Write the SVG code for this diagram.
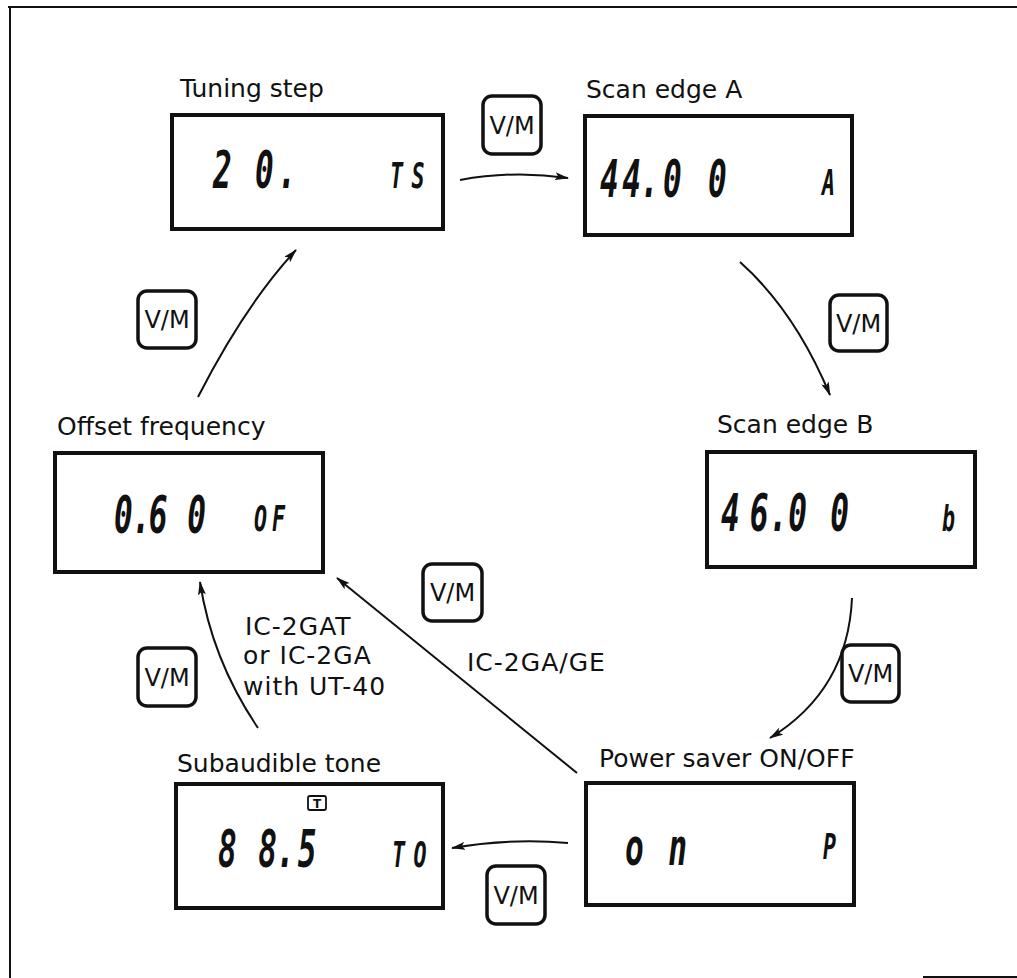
<svg xmlns="http://www.w3.org/2000/svg" width="1017" height="978" viewBox="0 0 1017 978">
<style>
.frame{fill:none;stroke:#111;stroke-width:2}
.lcdbox{fill:#fff;stroke:#111;stroke-width:4}
.lbl{font-family:"DejaVu Sans",sans-serif;font-size:25px;fill:#111}
.lcd{font-family:"DejaVu Sans Mono",monospace;font-style:oblique;font-weight:bold;font-size:52px;fill:#111}
.ind{font-family:"DejaVu Sans Mono",monospace;font-style:oblique;font-weight:bold;font-size:36px;fill:#111}
.btn rect{fill:#fff;stroke:#111;stroke-width:3.5}
.btn text{font-family:"DejaVu Sans",sans-serif;font-size:24px;fill:#111;text-anchor:middle}
.conn path{fill:none;stroke:#111;stroke-width:2;marker-end:url(#ah)}
</style>
<defs>
<marker id="ah" viewBox="0 0 14 8" refX="13" refY="4" markerWidth="14" markerHeight="8" markerUnits="userSpaceOnUse" orient="auto">
<path d="M0,0 L14,4 L0,8 L3,4 z" fill="#111"/>
</marker>
</defs>
<rect width="1017" height="978" fill="#fff"/>
<path class="frame" d="M8,7 H1017 M10,7 V978 M923,977 H1017"/>

<g id="tuning-step">
<text class="lbl" x="180" y="97">Tuning step</text>
<rect class="lcdbox" x="172" y="115" width="271" height="114"/>
<text class="lcd" transform="translate(213,188) scale(0.6,1)" x="0 70 108" y="0">20.</text>
<text class="ind" transform="translate(390,188) scale(0.6,1)" x="0 36" y="0">TS</text>
</g>

<g id="scan-edge-a">
<text class="lbl" x="586" y="98">Scan edge A</text>
<rect class="lcdbox" x="585" y="116" width="267" height="119"/>
<text class="lcd" transform="translate(600,197) scale(0.6,1)" x="0 37 67 105 180" y="0">44.00</text>
<text class="ind" transform="translate(822,195) scale(0.6,1)" x="0" y="0">A</text>
</g>

<g id="scan-edge-b">
<text class="lbl" x="717" y="433">Scan edge B</text>
<rect class="lcdbox" x="707" y="452" width="268" height="115"/>
<text class="lcd" transform="translate(721,531) scale(0.6,1)" x="0 48 80 112 182" y="0">46.00</text>
<text class="ind" transform="translate(942,531) scale(0.6,1)" x="0" y="0">b</text>
</g>

<g id="offset-frequency">
<text class="lbl" x="57" y="435">Offset frequency</text>
<rect class="lcdbox" x="55" y="453" width="268" height="119"/>
<text class="lcd" transform="translate(114,533) scale(0.6,1)" x="0 30 58 122" y="0">0.60</text>
<text class="ind" transform="translate(254,531) scale(0.6,1)" x="0 30" y="0">OF</text>
</g>

<g id="subaudible-tone">
<text class="lbl" x="177" y="772">Subaudible tone</text>
<rect class="lcdbox" x="176" y="784" width="267" height="124"/>
<rect x="308" y="796" width="18" height="14" rx="2" fill="#fff" stroke="#111" stroke-width="1.8"/>
<text x="317" y="808" font-family="DejaVu Sans,sans-serif" font-size="12" font-weight="bold" text-anchor="middle" fill="#111">T</text>
<text class="lcd" transform="translate(218,867) scale(0.6,1)" x="0 67 97 133" y="0">88.5</text>
<text class="ind" transform="translate(392,867) scale(0.6,1)" x="0 36" y="0">TO</text>
</g>

<g id="power-saver">
<text class="lbl" x="599" y="767">Power saver ON/OFF</text>
<rect class="lcdbox" x="586" y="783" width="268" height="122"/>
<text class="lcd" transform="translate(625,865) scale(0.6,1)" x="0 72" y="0">on</text>
<text class="ind" transform="translate(823,859) scale(0.6,1)" x="0" y="0">P</text>
</g>

<g id="connectors" class="conn">
<path d="M460,180 Q514,170 568,178"/>
<path d="M740,262 Q795,311 830,395"/>
<path d="M852,598 Q848,690 770,738"/>
<path d="M568,843 Q510,838 452,848"/>
<path d="M577,773 L337,578"/>
<path d="M258,728 Q212,660 200,582"/>
<path d="M198,397 Q245,305 296,250"/>
</g>

<g id="vm-buttons" class="btn">
<g id="vm1"><rect x="483" y="96" width="58" height="58" rx="9"/><text x="512" y="134">V/M</text></g>
<g id="vm2"><rect x="830" y="295" width="57" height="56" rx="9"/><text x="858.5" y="332">V/M</text></g>
<g id="vm3"><rect x="842" y="645" width="57" height="57" rx="9"/><text x="870.5" y="682">V/M</text></g>
<g id="vm4"><rect x="487" y="866" width="58" height="58" rx="9"/><text x="516" y="904">V/M</text></g>
<g id="vm5"><rect x="138" y="648" width="58" height="58" rx="9"/><text x="167" y="686">V/M</text></g>
<g id="vm6"><rect x="138" y="291" width="58" height="57" rx="9"/><text x="167" y="328">V/M</text></g>
<g id="vm7"><rect x="423" y="564" width="59" height="57" rx="9"/><text x="452.5" y="601">V/M</text></g>
</g>

<g id="notes">
<text class="lbl" x="245" y="635" font-size="26" letter-spacing="1">IC-2GAT</text>
<text class="lbl" x="243" y="664" font-size="26" letter-spacing="1">or IC-2GA</text>
<text class="lbl" x="243" y="695" font-size="26" letter-spacing="1">with UT-40</text>
<text class="lbl" x="467" y="671" letter-spacing="1">IC-2GA/GE</text>
</g>
</svg>
